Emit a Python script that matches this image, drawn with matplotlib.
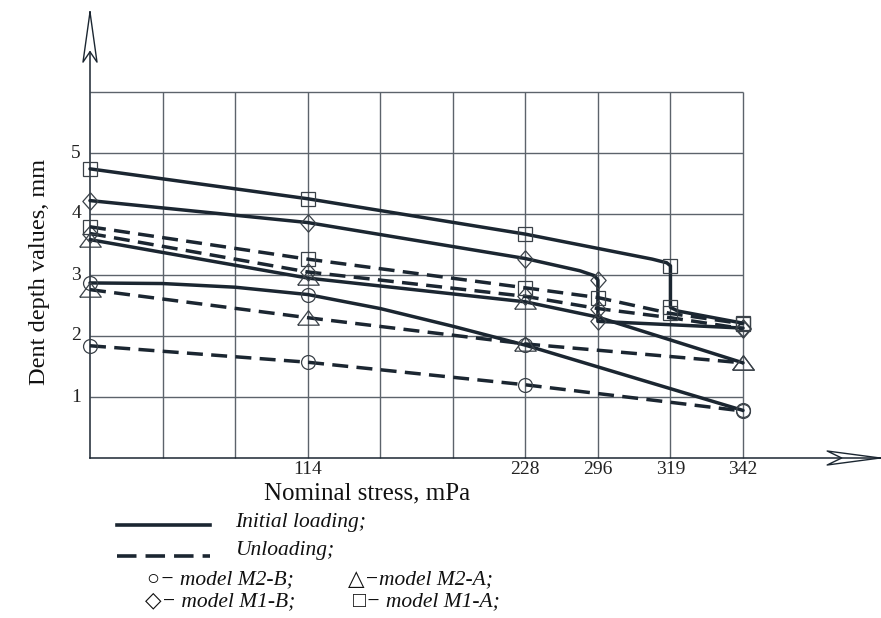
import matplotlib

matplotlib.use("Agg")
import matplotlib.pyplot as plt
from matplotlib.lines import Line2D

W, H = 881, 618
ink = "#1b2631"
grid_c = "#5c636b"
mark_c = "#3a4148"
serif = ["Liberation Serif", "DejaVu Serif", "DejaVu Sans"]

# x = grid column (0..9); only some columns carry a stress label
tick_pos = [3, 6, 7, 8, 9]
tick_lab = ["114", "228", "296", "319", "342"]
y_ticks = [1, 2, 3, 4, 5]

# initial loading (solid)
m2b_ld_x = [0, 1, 2, 3, 4, 5, 6, 9]
m2b_ld_y = [2.87, 2.86, 2.80, 2.68, 2.45, 2.16, 1.85, 0.78]
m2b_ld_mk = [0, 3, 6, 7]

m2a_ld_x = [0, 3, 6, 7, 9]
m2a_ld_y = [3.58, 2.95, 2.56, 2.31, 1.56]
m2a_ld_mk = [0, 1, 2, 4]

m1b_ld_x = [0, 3, 6, 6.75, 6.95, 7, 7, 9]
m1b_ld_y = [4.22, 3.86, 3.27, 3.07, 2.99, 2.92, 2.24, 2.13]
m1b_ld_mk = [0, 1, 2, 5, 6, 7]

m1a_ld_x = [0, 3, 6, 7.75, 7.95, 8, 8, 8.1, 9]
m1a_ld_y = [4.74, 4.25, 3.67, 3.26, 3.20, 3.15, 2.47, 2.41, 2.21]
m1a_ld_mk = [0, 1, 2, 5, 6, 8]

# unloading (dashed)
m2b_un_x = [0, 3, 6, 9]
m2b_un_y = [1.84, 1.57, 1.20, 0.77]
m2a_un_x = [0, 3, 6, 9]
m2a_un_y = [2.76, 2.30, 1.87, 1.56]
m1b_un_x = [0, 3, 6, 7, 8, 9]
m1b_un_y = [3.68, 3.05, 2.65, 2.45, 2.30, 2.12]
m1b_un_mk = [0, 1, 2, 3, 5]
m1a_un_x = [0, 3, 6, 7, 8, 9]
m1a_un_y = [3.79, 3.26, 2.79, 2.63, 2.37, 2.20]

tri = [(-1, -0.62), (1, -0.62), (0, 0.72), (-1, -0.62)]
dia = [(0, 1), (-0.88, 0), (0, -1), (0.88, 0), (0, 1)]
mk = {
    "M2-B": dict(marker="o", ms=10),
    "M2-A": dict(marker=tri, ms=15.5),
    "M1-B": dict(marker=dia, ms=12.5),
    "M1-A": dict(marker="s", ms=9.5),
}

fig = plt.figure(figsize=(W / 100, H / 100), dpi=100)
x0, y0, x1, y1 = 90, 458, 743, 92
ax = fig.add_axes([x0 / W, 1 - y0 / H, (x1 - x0) / W, (y0 - y1) / H])
ax.set_xlim(0, 9)
ax.set_ylim(0, 6)
ax.axis("off")

# grid
ax.hlines(range(1, 7), 0, 9, color=grid_c, lw=1.0, zorder=1, clip_on=False)
ax.vlines(range(1, 10), 0, 6, color=grid_c, lw=1.0, zorder=1, clip_on=False)

# axes with open arrowheads
ux, uy = 9 / (x1 - x0), 6 / (y0 - y1)  # data units per pixel
ax.plot([0, 10.85], [0, 0], color=ink, lw=1.1, clip_on=False, zorder=2)
ax.plot([0, 0], [0, 6.66], color=ink, lw=1.1, clip_on=False, zorder=2)
ax.plot([10.89, 10.16, 10.36, 10.16, 10.89], [0, 7 * uy, 0, -7 * uy, 0],
        color=ink, lw=1.0, clip_on=False)
ax.plot([0, -7 * ux, 0, 7 * ux, 0], [7.31, 6.49, 6.66, 6.49, 7.31],
        color=ink, lw=1.0, clip_on=False)

solid = dict(color=ink, lw=2.5, solid_joinstyle="round", solid_capstyle="round", zorder=4)
dashed = dict(color=ink, lw=2.5, ls=(0, (4.6, 2.4)), dash_capstyle="butt", zorder=4)
mstyle = dict(mfc="none", mec=mark_c, mew=0.9)

ax.plot(m2b_ld_x, m2b_ld_y, markevery=m2b_ld_mk, **solid, **mk["M2-B"], **mstyle, clip_on=False)
ax.plot(m2a_ld_x, m2a_ld_y, markevery=m2a_ld_mk, **solid, **mk["M2-A"], **mstyle, clip_on=False)
ax.plot(m1b_ld_x, m1b_ld_y, markevery=m1b_ld_mk, **solid, **mk["M1-B"], **mstyle, clip_on=False)
ax.plot(m1a_ld_x, m1a_ld_y, markevery=m1a_ld_mk, **solid, **mk["M1-A"], **mstyle, clip_on=False)

ax.plot(m2b_un_x, m2b_un_y, **dashed, **mk["M2-B"], **mstyle, clip_on=False)
ax.plot(m2a_un_x, m2a_un_y, **dashed, **mk["M2-A"], **mstyle, clip_on=False)
ax.plot(m1b_un_x, m1b_un_y, markevery=m1b_un_mk, **dashed, **mk["M1-B"], **mstyle, clip_on=False)
ax.plot(m1a_un_x, m1a_un_y, **dashed, **mk["M1-A"], **mstyle, clip_on=False)

# tick labels
for p, s in zip(tick_pos, tick_lab):
    ax.text(p, -12 * uy, s, ha="center", va="center", fontsize=14,
            family=serif, color="#222")
for v in y_ticks:
    ax.text(-9 * ux, v, str(v), ha="right", va="center", fontsize=14,
            family=serif, color="#222")

def fx(px):
    return px / W

def fy(py):
    return 1 - py / H

fig.text(fx(40), fy(272), "Dent depth values, mm", rotation=90, ha="center",
         va="center", fontsize=17.5, family=serif, color="#111")
fig.text(fx(367), fy(493), "Nominal stress, mPa", ha="center", va="center",
         fontsize=18, family=serif, color="#111")

# legend block
fig.add_artist(Line2D([fx(117), fx(210)], [fy(525), fy(525)], color=ink, lw=2.6))
fig.add_artist(Line2D([fx(117), fx(210)], [fy(556), fy(556)], color=ink, lw=2.6,
                      ls=(0, (5.4, 2.5))))
leg = dict(ha="left", va="center", fontsize=15.5, style="italic", family=serif, color="#111")
fig.text(fx(235), fy(522), "Initial loading;", **leg)
fig.text(fx(235), fy(551), "Unloading;", **leg)
fig.text(fx(147), fy(580), "○− model M2-B;", **leg)
fig.text(fx(348), fy(580), "△−model M2-A;", **leg)
fig.text(fx(145), fy(602), "◇− model M1-B;", **leg)
fig.text(fx(353), fy(602), "□− model M1-A;", **leg)

fig.savefig("out.png", dpi=100)
